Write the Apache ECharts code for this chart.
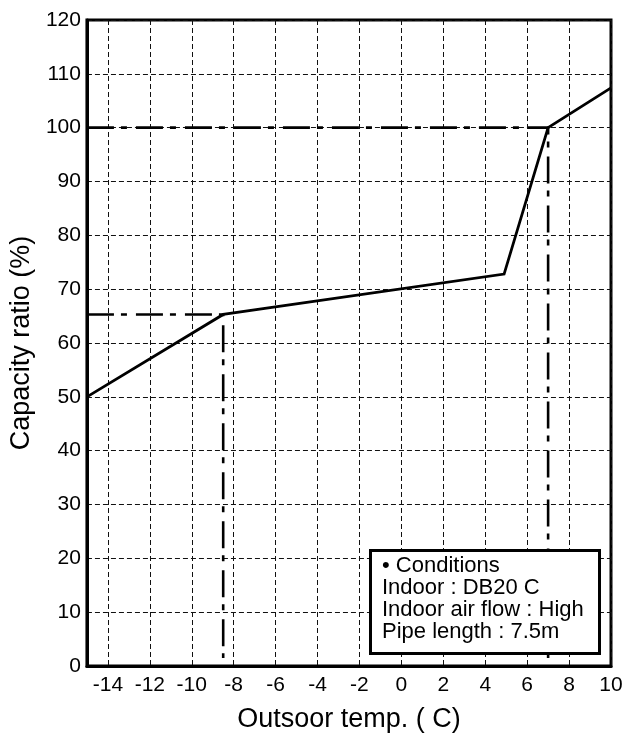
<!DOCTYPE html>
<html>
<head>
<meta charset="utf-8">
<script src="https://cdn.jsdelivr.net/npm/echarts@6/dist/echarts.min.js"></script>
<style>
html,body{margin:0;padding:0;background:#fff;}
#chart{width:639px;height:738px;}
</style>
</head>
<body>
<div id="chart"></div>
<script>
// ---- data ----
const capTemp = [-15, -8.5, 4.9, 7, 10];
const capRatio = [50, 65.3, 72.8, 100, 107.4];
const lowRefTemp = [-15, -8.5, -8.5];
const lowRefRatio = [65.3, 65.3, 1.5];
const highRefTemp = [-15, 7, 7];
const highRefRatio = [100, 100, 1.5];
const conditionLines = ['• Conditions', 'Indoor : DB20 C', 'Indoor air flow : High', 'Pipe length : 7.5m'];
const xTitle = 'Outsoor temp. ( C)';
const yTitle = 'Capacity ratio (%)';

const zip = (a, b) => a.map((v, i) => [v, b[i]]);
const FONT = "'Liberation Sans', Arial, Helvetica, sans-serif";
const dashDot = [27, 7, 6, 9];

const chart = echarts.init(document.getElementById('chart'), null, {renderer: 'canvas'});
chart.setOption({
  animation: false,
  backgroundColor: '#fff',
  textStyle: {fontFamily: FONT},
  grid: {left: 86, top: 20, right: 28, bottom: 72, show: true, borderColor: '#000', borderWidth: 3, backgroundColor: 'transparent'},
  xAxis: {
    type: 'value', min: -15, max: 10, interval: 1,
    name: xTitle, nameLocation: 'middle', nameGap: 40,
    nameTextStyle: {fontSize: 27, color: '#000', fontFamily: FONT},
    axisLine: {show: true, onZero: false, lineStyle: {color: '#000', width: 3}},
    axisTick: {show: false},
    axisLabel: {
      color: '#000', fontSize: 21, margin: 9, fontFamily: FONT,
      formatter: v => (Math.round(v) % 2 === 0 ? String(v) : '')
    },
    splitLine: {show: true, lineStyle: {color: ['rgba(0,0,0,0)', '#111'], type: [5, 3], width: 1}}
  },
  yAxis: {
    type: 'value', min: 0, max: 120, interval: 10,
    name: yTitle, nameLocation: 'middle', nameGap: 46, nameRotate: 90,
    nameTextStyle: {fontSize: 27, color: '#000', fontFamily: FONT},
    axisLine: {show: true, onZero: false, lineStyle: {color: '#000', width: 3}},
    axisTick: {show: false},
    axisLabel: {color: '#000', fontSize: 21, margin: 6, fontFamily: FONT},
    splitLine: {show: true, lineStyle: {color: '#111', type: [5, 3], width: 1}}
  },
  series: [
    {
      type: 'line', data: zip(lowRefTemp, lowRefRatio), symbol: 'none', z: 3,
      lineStyle: {color: '#000', width: 2.6, type: dashDot}
    },
    {
      type: 'line', data: zip(highRefTemp, highRefRatio), symbol: 'none', z: 3,
      lineStyle: {color: '#000', width: 2.6, type: dashDot}
    },
    {
      type: 'line', data: zip(capTemp, capRatio), symbol: 'none', z: 4,
      lineStyle: {color: '#000', width: 2.8, join: 'miter'}
    }
  ],
  graphic: [
    {type: 'rect', left: 369, top: 549, z: 100, zlevel: 0,
     shape: {x: 0, y: 0, width: 229, height: 103},
     style: {fill: '#ffffff', stroke: '#000', lineWidth: 3}},
    {type: 'text', left: 382, top: 555, z: 101,
     style: {text: conditionLines.join('\n'), font: "22px " + FONT, fill: '#000', lineHeight: 22}}
  ]
});
</script>
</body>
</html>
